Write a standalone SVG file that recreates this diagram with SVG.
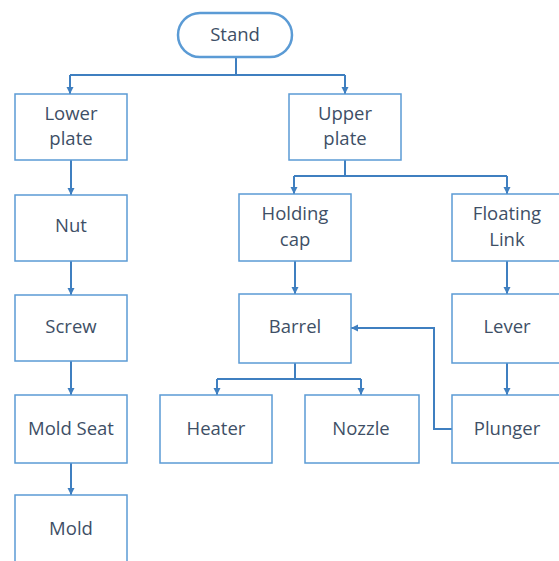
<svg xmlns="http://www.w3.org/2000/svg" width="559" height="561" viewBox="0 0 559 561">
<style>
.box{fill:#fff;stroke:#5b9bd5;stroke-width:1.5}
.stand{fill:#fff;stroke:#5b9bd5;stroke-width:2.5}
.t{font-family:"Open Sans","Noto Sans",sans-serif;font-size:18.5px;fill:#3e4f66;text-anchor:middle;dominant-baseline:central}
.c{fill:none;stroke:#3f7fc0;stroke-width:2}
</style>
<defs>
<marker id="ah" markerWidth="8" markerHeight="8" refX="7" refY="4" orient="auto" markerUnits="userSpaceOnUse">
<path d="M0,0.5 L7,4 L0,7.5 Z" fill="#3f7fc0"/>
</marker>
</defs>
<g id="connectors">
<path class="c" d="M236,58 V75"/>
<path class="c" d="M70,75 H345" />
<path class="c" d="M70,75 V94" marker-end="url(#ah)"/>
<path class="c" d="M345,75 V94" marker-end="url(#ah)"/>
<path class="c" d="M71,160 V195" marker-end="url(#ah)"/>
<path class="c" d="M71,261 V295" marker-end="url(#ah)"/>
<path class="c" d="M71,361 V395" marker-end="url(#ah)"/>
<path class="c" d="M71,463 V495" marker-end="url(#ah)"/>
<path class="c" d="M345,160 V176"/>
<path class="c" d="M294,176 H507"/>
<path class="c" d="M294,176 V194" marker-end="url(#ah)"/>
<path class="c" d="M507,176 V194" marker-end="url(#ah)"/>
<path class="c" d="M295,261 V294" marker-end="url(#ah)"/>
<path class="c" d="M507,261 V294" marker-end="url(#ah)"/>
<path class="c" d="M295,363 V379"/>
<path class="c" d="M217,379 H361"/>
<path class="c" d="M217,379 V395" marker-end="url(#ah)"/>
<path class="c" d="M361,379 V395" marker-end="url(#ah)"/>
<path class="c" d="M507,363 V395" marker-end="url(#ah)"/>
<path class="c" d="M452,429 H434 V328 H351" marker-end="url(#ah)"/>
</g>
<g id="stand"><rect class="stand" x="178" y="13" width="114" height="44" rx="22"/><text class="t" x="235" y="33">Stand</text></g>
<g id="lower-plate"><rect class="box" x="15" y="94" width="112" height="66"/><text class="t" x="71" y="112">Lower</text><text class="t" x="71" y="137">plate</text></g>
<g id="nut"><rect class="box" x="15" y="195" width="112" height="66"/><text class="t" x="71" y="224">Nut</text></g>
<g id="screw"><rect class="box" x="15" y="295" width="112" height="66"/><text class="t" x="71" y="325">Screw</text></g>
<g id="mold-seat"><rect class="box" x="15" y="395" width="112" height="68"/><text class="t" x="71" y="427">Mold Seat</text></g>
<g id="mold"><rect class="box" x="15" y="495" width="112" height="80"/><text class="t" x="71" y="527">Mold</text></g>
<g id="upper-plate"><rect class="box" x="289" y="94" width="112" height="66"/><text class="t" x="345" y="112">Upper</text><text class="t" x="345" y="137">plate</text></g>
<g id="holding-cap"><rect class="box" x="239" y="194" width="112" height="67"/><text class="t" x="295" y="212">Holding</text><text class="t" x="295" y="238">cap</text></g>
<g id="floating-link"><rect class="box" x="452" y="194" width="112" height="67"/><text class="t" x="507" y="212">Floating</text><text class="t" x="507" y="238">Link</text></g>
<g id="barrel"><rect class="box" x="239" y="294" width="112" height="69"/><text class="t" x="295" y="325">Barrel</text></g>
<g id="lever"><rect class="box" x="452" y="294" width="112" height="69"/><text class="t" x="507" y="325">Lever</text></g>
<g id="heater"><rect class="box" x="160" y="395" width="112" height="68"/><text class="t" x="216" y="427">Heater</text></g>
<g id="nozzle"><rect class="box" x="305" y="395" width="114" height="68"/><text class="t" x="361" y="427">Nozzle</text></g>
<g id="plunger"><rect class="box" x="452" y="395" width="112" height="68"/><text class="t" x="507" y="427">Plunger</text></g>
</svg>
